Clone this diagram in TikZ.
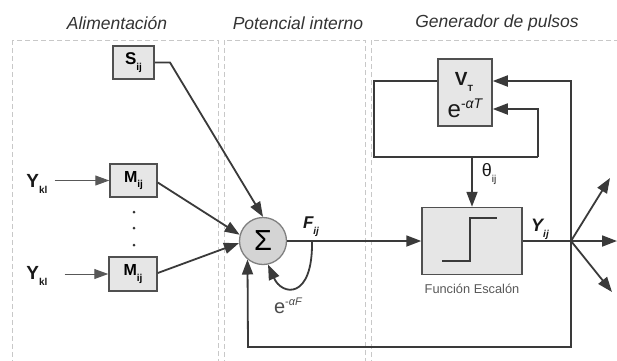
\documentclass[tikz,border=0pt]{standalone}
\usepackage{fontspec}
\setmainfont{Liberation Sans}
\usetikzlibrary{arrows.meta}
\definecolor{linec}{HTML}{3A3A3A}
\definecolor{boxline}{HTML}{505050}
\definecolor{boxfill}{HTML}{E6E6E6}
\definecolor{sumfill}{HTML}{D4D4D4}
\definecolor{panelc}{HTML}{C8C8C8}
\newcommand{\fsz}[1]{\fontsize{#1}{#1}\selectfont}
\newcommand{\lowsub}[2]{\raisebox{-0.35em}{\fsz{#1}#2}}
\begin{document}
\begin{tikzpicture}[x=1pt,y=-1pt,
  panel/.style={draw=panelc, dash pattern=on 5pt off 3pt, line width=1pt},
  blk/.style={draw=boxline, fill=boxfill, line width=1.5pt, inner sep=0pt},
  wire/.style={draw=linec, line width=1.8pt},
  arr/.style={wire, -{Triangle[length=15pt,width=11pt]}},
  thinarr/.style={draw=linec!85, line width=1pt, -{Triangle[length=14pt,width=10pt]}},
  title/.style={font=\fsz{17.5}\itshape, text=black!80},
  lbl/.style={inner sep=0pt, text=black!90}]
\useasboundingbox (0,0) rectangle (617,360);
\fill[white] (0,0) rectangle (617,360);

% dashed panels
\draw[panel] (12,40) rectangle (218,375);
\draw[panel] (224,40) rectangle (365,375);
\draw[panel] (371,40) rectangle (640,375);

% panel titles
\node[title] (t1) at (117,23) {Alimentación};
\node[title] (t2) at (298,23) {Potencial interno};
\node[title] (t3) at (497,23) {Generador de pulsos};

% blocks
\node[blk, minimum width=41pt, minimum height=33pt] (S) at (133.5,62.5)
  {\fsz{17}\bfseries S\lowsub{10}{ij}};
\node[blk, minimum width=47pt, minimum height=33pt] (M1) at (133.5,180.5)
  {\fsz{16}\bfseries M\lowsub{10}{ij}};
\node[blk, minimum width=48pt, minimum height=34pt] (M2) at (133,274)
  {\fsz{16}\bfseries M\lowsub{10}{ij}};
\node[draw=black!50, fill=sumfill, line width=1.3pt, circle, minimum size=47pt, inner sep=0pt] (sig) at (263,241)
  {\fsz{29}Σ};
\node[blk, minimum width=54pt, minimum height=67pt] (VT) at (465,92.5) {};
\node[blk, minimum width=100pt, minimum height=67pt] (step) at (472,241) {};

% texts inside the threshold block
\node[lbl] (vtxt) at (464,82) {\fsz{19}\bfseries V\lowsub{9}{T}};
\node[lbl] (etxt) at (465,108) {\fsz{24}e\raisebox{9pt}{\fsz{14}-\itshape αT}};

% step symbol
\draw[wire, line width=1.5pt] (442,261) -- (470,261) -- (470,218) -- (497,218);
\node[lbl, text=black!65] (fe) at (472,289) {\fsz{12.8}Función Escalón};

% inputs
\node[lbl] (y1) at (37,184) {\fsz{19}\bfseries Y\lowsub{10}{kl}};
\node[lbl] (y2) at (37,276) {\fsz{19}\bfseries Y\lowsub{10}{kl}};
\draw[thinarr] ([xshift=7pt]y1.east |- M1.west) -- (M1.west);
\draw[thinarr] ([xshift=17pt]y2.east |- M2.west) -- (M2.west);

% dots between the weighting blocks
\foreach \yy/\nm in {212/d1,228/d2,245/d3}
  \fill[black!80] (134,\yy) circle (1.5pt) coordinate (\nm);

% connections into the sum
\coordinate (sk) at (170,62.5);
\draw[arr] (S.east) -- (sk) -- (sig.north);
\draw[arr] ([yshift=-2pt]M1.east) -- (sig.165);
\draw[arr] ([yshift=1pt]M2.east) -- (sig.185);

% internal potential and its decay loop
\node[lbl] (F) at (311,227) {\fsz{17}\bfseries\itshape F\lowsub{10}{ij}};
\draw[arr] (sig.east) -- (step.west);
\coordinate (fk) at (312,241);
\draw[arr] (fk) .. controls (313,300) and (282,296) .. (sig.282);
\node[lbl, text=black!70] (eF) at (288,306) {\fsz{20}e\raisebox{8pt}{\fsz{11}-\itshape αF}};

% threshold loop
\coordinate (la) at (374,81);
\coordinate (lb) at (374,157);
\coordinate (lc) at (538,157);
\coordinate (ld) at (538,109);
\coordinate (th) at (472,157);
\draw[wire] (VT.west |- la) -- (la) -- (lb) -- (lc);
\draw[arr] (lc) -- (ld) -- (VT.east |- ld);
\draw[arr] (th) -- (step.north);
\node[lbl] (theta) at (489,174) {\fsz{18}θ\lowsub{10}{ij}};

% output and feedback
\coordinate (J) at (571,241);
\coordinate (top) at (571,81);
\coordinate (fb) at (248,347);
\draw[wire] (step.east) -- (J);
\node[lbl] (Y) at (540,229) {\fsz{18}\bfseries\itshape Y\lowsub{10}{ij}};
\draw[arr] (J) -- (top) -- (VT.east |- top);
\draw[arr] (J) -- (J |- fb) -- (fb) -- (sig.230);
\coordinate (o1) at (617,241);
\coordinate (o2) at (610,178);
\coordinate (o3) at (612,292);
\draw[arr] (J) -- (o1);
\draw[arr] (J) -- (o2);
\draw[arr] (J) -- (o3);
\end{tikzpicture}
\end{document}
